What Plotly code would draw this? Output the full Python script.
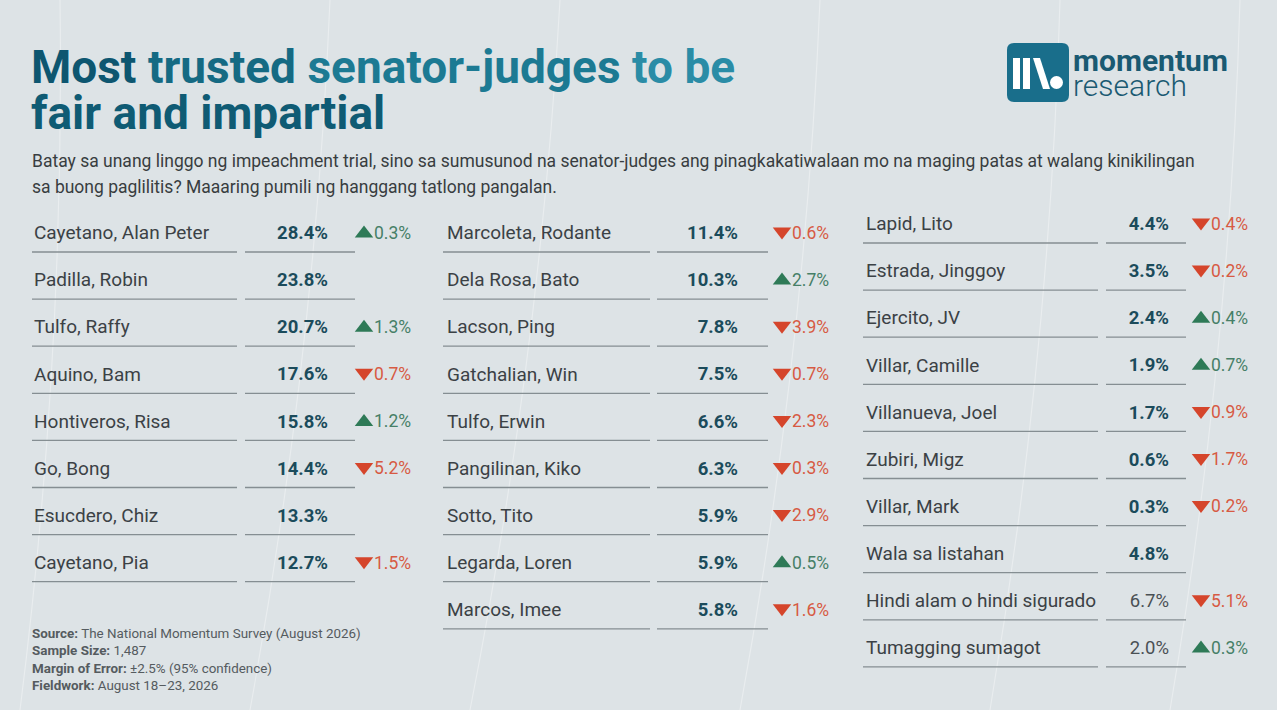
import plotly.graph_objects as go

names1 = ["Cayetano, Alan Peter", "Padilla, Robin", "Tulfo, Raffy", "Aquino, Bam",
          "Hontiveros, Risa", "Go, Bong", "Esucdero, Chiz", "Cayetano, Pia"]
share1 = [28.4, 23.8, 20.7, 17.6, 15.8, 14.4, 13.3, 12.7]
change1 = [0.3, None, 1.3, -0.7, 1.2, -5.2, None, -1.5]

names2 = ["Marcoleta, Rodante", "Dela Rosa, Bato", "Lacson, Ping", "Gatchalian, Win",
          "Tulfo, Erwin", "Pangilinan, Kiko", "Sotto, Tito", "Legarda, Loren", "Marcos, Imee"]
share2 = [11.4, 10.3, 7.8, 7.5, 6.6, 6.3, 5.9, 5.9, 5.8]
change2 = [-0.6, 2.7, -3.9, -0.7, -2.3, -0.3, -2.9, 0.5, -1.6]

names3 = ["Lapid, Lito", "Estrada, Jinggoy", "Ejercito, JV", "Villar, Camille",
          "Villanueva, Joel", "Zubiri, Migz", "Villar, Mark", "Wala sa listahan",
          "Hindi alam o hindi sigurado", "Tumagging sumagot"]
share3 = [4.4, 3.5, 2.4, 1.9, 1.7, 0.6, 0.3, 4.8, 6.7, 2.0]
change3 = [-0.4, -0.2, 0.4, 0.7, -0.9, -1.7, -0.2, None, -5.1, 0.3]
# rows that are not senators (shown in plain grey)
plain3 = ["Hindi alam o hindi sigurado", "Tumagging sumagot"]

title_words = ["Most", "trusted", "senator-judges", "to be"]
subtitle = ["Batay sa unang linggo ng impeachment trial, sino sa sumusunod na senator-judges ang pinagkakatiwalaan mo na maging patas at walang kinikilingan",
            "sa buong paglilitis? Maaaring pumili ng hanggang tatlong pangalan."]
notes = [("Source:", "The National Momentum Survey (August 2026)"),
         ("Sample Size:", "1,487"),
         ("Margin of Error:", "±2.5% (95% confidence)"),
         ("Fieldwork:", "August 18–23, 2026")]

FONT = "Roboto"
BG = "#dde3e6"
TEAL = "#1b4b5b"
NAME_C = "#3b4145"
LINE_C = "#858e92"
UP_C, UP_T = "#2e7a57", "#467f67"
DN_C, DN_T = "#d5452b", "#d75a43"

# column geometry (pixels, axes are 1:1 with the page)
columns = [
    dict(names=names1, share=share1, change=change1, nx=34, l1=(32, 237), l2=(245, 355), vx=328, ax=364, y0=233),
    dict(names=names2, share=share2, change=change2, nx=447, l1=(443, 650), l2=(657, 768), vx=738, ax=782, y0=233),
    dict(names=names3, share=share3, change=change3, nx=866, l1=(863, 1098), l2=(1106, 1186), vx=1169, ax=1201, y0=224),
]
STEP = 47.1
TY = 1.5  # small nudge so text sits on the row centre

fig = go.Figure()

for c in columns:
    n = len(c["names"])
    ys = [c["y0"] + i * STEP for i in range(n)]

    # underlines
    lx, ly = [], []
    for y in ys:
        for a, b in (c["l1"], c["l2"]):
            lx += [a, b, None]
            ly += [y + 19, y + 19, None]
    fig.add_trace(go.Scatter(x=lx, y=ly, mode="lines", line=dict(color=LINE_C, width=1.3),
                             hoverinfo="skip"))

    # names
    fig.add_trace(go.Scatter(x=[c["nx"]] * n, y=[y + TY for y in ys], mode="text", text=c["names"],
                             textposition="middle right",
                             textfont=dict(family=FONT, size=19, color=NAME_C)))

    # values
    bold_y = [y + TY for y, nm in zip(ys, c["names"]) if nm not in plain3]
    bold_t = [f"{v:.1f}%" for v, nm in zip(c["share"], c["names"]) if nm not in plain3]
    fig.add_trace(go.Scatter(x=[c["vx"]] * len(bold_y), y=bold_y, mode="text", text=bold_t,
                             textposition="middle left",
                             textfont=dict(family=FONT, size=18.5, color=TEAL, weight="bold")))
    pl_y = [y + TY for y, nm in zip(ys, c["names"]) if nm in plain3]
    pl_t = [f"{v:.1f}%" for v, nm in zip(c["share"], c["names"]) if nm in plain3]
    if pl_y:
        fig.add_trace(go.Scatter(x=[c["vx"]] * len(pl_y), y=pl_y, mode="text", text=pl_t,
                                 textposition="middle left",
                                 textfont=dict(family=FONT, size=18.5, color="#4a5054")))

    # changes
    for up in (True, False):
        sel = [(y, d) for y, d in zip(ys, c["change"]) if d is not None and (d > 0) == up]
        if not sel:
            continue
        yy = [s[0] for s in sel]
        tt = [f"{abs(s[1]):.1f}%" for s in sel]
        fig.add_trace(go.Scatter(x=[c["ax"]] * len(yy), y=[y + (0.5 if up else -1.5) for y in yy],
                                 mode="markers",
                                 marker=dict(symbol="triangle-up" if up else "triangle-down",
                                             size=16, color=UP_C if up else DN_C),
                                 hoverinfo="skip"))
        fig.add_trace(go.Scatter(x=[c["ax"] + 10] * len(yy), y=[y + TY for y in yy], mode="text", text=tt,
                                 textposition="middle right",
                                 textfont=dict(family=FONT, size=17.5, color=UP_T if up else DN_T)))

# faint background strokes
for x0, x1 in [(60, 20), (330, 250), (560, 470), (820, 740), (1060, 990), (1240, 1170)]:
    fig.add_shape(type="path", path=f"M {x0} 0 Q {(x0 + x1) / 2 + 25} 355 {x1} 710",
                  line=dict(color="rgba(255,255,255,0.35)", width=1.2), layer="below")

# title
title_cols = ["#0d5670", "#156a83", "#1c7a93", "#2a8ca6"]
line1 = " ".join(f"<span style='color:{col}'>{w}</span>" for w, col in zip(title_words, title_cols))
fig.add_annotation(x=29, y=67, text=line1, showarrow=False, xanchor="left", yanchor="middle",
                   font=dict(family=FONT, size=46, weight="bold"))
fig.add_annotation(x=29, y=113, text="fair and impartial", showarrow=False, xanchor="left",
                   yanchor="middle", font=dict(family=FONT, size=46, weight="bold", color="#0f5b74"))

# subtitle
for i, s in enumerate(subtitle):
    fig.add_annotation(x=30, y=161 + i * 26, text=s, showarrow=False, xanchor="left", yanchor="middle",
                       font=dict(family=FONT, size=17.5, color="#383d40"))

# footnotes
for i, (k, v) in enumerate(notes):
    fig.add_annotation(x=30, y=633 + i * 17.5, text=f"<b>{k}</b> {v}", showarrow=False,
                       xanchor="left", yanchor="middle",
                       font=dict(family=FONT, size=13.4, color="#555b5f"))

# logo
fig.add_shape(type="path",
              path="M 1014 43 L 1062 43 Q 1069 43 1069 50 L 1069 95 Q 1069 102 1062 102 "
                   "L 1014 102 Q 1007 102 1007 95 L 1007 50 Q 1007 43 1014 43 Z",
              fillcolor="#196e8b", line=dict(width=0))
for px in ["M 1013 58 L 1020 58 L 1020 89 L 1013 89 Z",
           "M 1023 58 L 1030 58 L 1030 89 L 1023 89 Z",
           "M 1033 58 L 1040 58 L 1050 89 L 1043 89 Z"]:
    fig.add_shape(type="path", path=px, fillcolor="white", line=dict(width=0))
fig.add_shape(type="circle", x0=1050, x1=1063, y0=76, y1=89, fillcolor="white", line=dict(width=0))
fig.add_annotation(x=1071, y=60, text="momentum", showarrow=False, xanchor="left", yanchor="middle",
                   font=dict(family=FONT, size=30, weight="bold", color="#1a5a72"))
fig.add_annotation(x=1071, y=85, text="research", showarrow=False, xanchor="left", yanchor="middle",
                   font=dict(family=FONT, size=30, weight=300, color="#1a5a72"))

fig.update_layout(
    width=1277, height=710, margin=dict(l=0, r=0, t=0, b=0),
    paper_bgcolor=BG, plot_bgcolor=BG, showlegend=False,
    xaxis=dict(range=[0, 1277], visible=False, fixedrange=True),
    yaxis=dict(range=[710, 0], visible=False, fixedrange=True),
)

# drop the page's default body margin so the figure fills the window
fig.write_html("out.html", config={"displayModeBar": False},
               post_script=f"document.body.style.margin='0';document.body.style.background='{BG}';")
